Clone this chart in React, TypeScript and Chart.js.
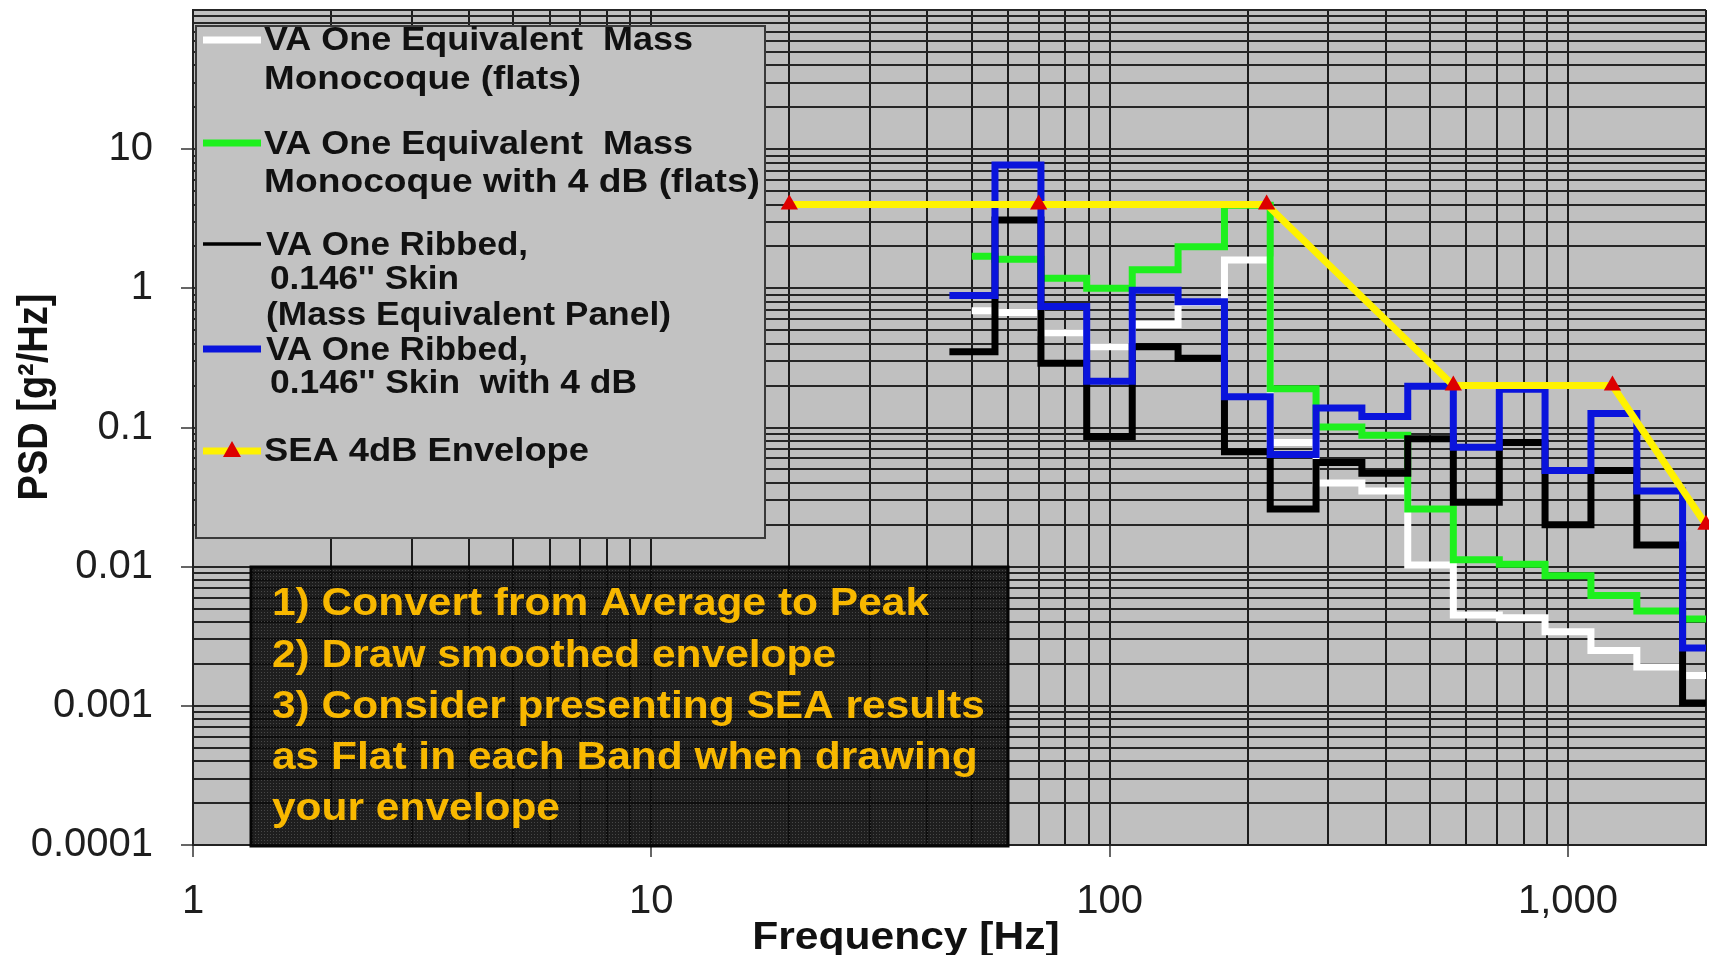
import React, { useEffect, useRef } from "react";
import { Chart, registerables } from "chart.js";

Chart.register(...registerables);

const FONT = "'Liberation Sans', Arial, Helvetica, sans-serif";

// 1/3-octave band edges [Hz]
const bandEdgesHz = [44.7, 56.2, 70.8, 89.1, 112, 141, 178, 224, 282, 355, 447, 562, 708, 891, 1122, 1413, 1778, 2239];
const flatsStartHz = 50;

// PSD per band (bands 50 ... 2000 Hz)
const monoFlatsPsd = [0.69, 0.67, 0.48, 0.38, 0.55, 0.79, 1.6, 0.078, 0.04, 0.035, 0.0103, 0.0045, 0.0043, 0.0034, 0.0025, 0.0019, 0.00165];
const mono4dBFlatsPsd = [1.7, 1.62, 1.18, 1.0, 1.36, 1.99, 3.95, 0.19, 0.101, 0.088, 0.026, 0.0112, 0.0104, 0.0086, 0.0062, 0.0048, 0.0042];
const ribbedPsd = [0.35, 3.1, 0.29, 0.086, 0.38, 0.315, 0.067, 0.026, 0.056, 0.047, 0.083, 0.029, 0.078, 0.02, 0.049, 0.0143, 0.00105];
const ribbed4dBPsd = [0.89, 7.7, 0.74, 0.215, 0.97, 0.8, 0.166, 0.064, 0.138, 0.12, 0.198, 0.072, 0.188, 0.049, 0.126, 0.035, 0.0026];

const envelopeHz = [20, 70, 220, 562, 1250, 2000];
const envelopePsd = [4, 4, 4, 0.2, 0.2, 0.02];

const xRange = [1, 2000];
const yRange = [0.0001, 100];
const xTickValues = [1, 10, 100, 1000];
const xTickLabels = ["1", "10", "100", "1,000"];
const yTickValues = [10, 1, 0.1, 0.01, 0.001, 0.0001];
const yTickLabels = ["10", "1", "0.1", "0.01", "0.001", "0.0001"];

const xTitle = "Frequency [Hz]";
const yTitle = "PSD [g\u00B2/Hz]";

const legendText = [
  ["VA One Equivalent  Mass", "Monocoque (flats)"],
  ["VA One Equivalent  Mass", "Monocoque with 4 dB (flats)"],
  ["VA One Ribbed,", "0.146'' Skin", "(Mass Equivalent Panel)"],
  ["VA One Ribbed,", "0.146'' Skin  with 4 dB"],
  ["SEA 4dB Envelope"],
];

const noteLines = [
  "1) Convert from Average to Peak",
  "2) Draw smoothed envelope",
  "3) Consider presenting SEA results",
  "as Flat in each Band when drawing",
  "your envelope",
];

const COLORS = {
  white: "#ffffff",
  green: "#1ef01e",
  black: "#000000",
  blue: "#0a14dc",
  yellow: "#fff200",
  red: "#dd0000",
  plot: "#c0c0c0",
  grid: "#1c1c1c",
  note: "#f8b800",
};

const stepPoints = (values: number[], startHz: number) => {
  const pts = values.map((v, i) => ({ x: i === 0 ? startHz : bandEdgesHz[i], y: v }));
  pts.push({ x: bandEdgesHz[values.length], y: values[values.length - 1] });
  return pts;
};

const logGrid = (min: number, max: number) => {
  const out: number[] = [];
  for (let e = Math.floor(Math.log10(min)); e <= Math.ceil(Math.log10(max)); e++) {
    for (let m = 1; m <= 9; m++) {
      const v = parseFloat((m * Math.pow(10, e)).toPrecision(8));
      if (v >= min * (1 - 1e-9) && v <= max * (1 + 1e-9)) out.push(v);
    }
  }
  return out;
};

const sameLog = (a: number, b: number) => Math.abs(Math.log10(a) - Math.log10(b)) < 1e-6;
const labelFor = (v: number, vals: number[], labels: string[]) => {
  const i = vals.findIndex((t) => sameLog(t, v));
  return i >= 0 ? labels[i] : "";
};

const drawFitted = (ctx: CanvasRenderingContext2D, text: string, x: number, y: number, width: number) => {
  const sx = width / ctx.measureText(text).width;
  ctx.save();
  ctx.translate(x, y);
  ctx.scale(sx, 1);
  ctx.fillText(text, 0, 0);
  ctx.restore();
};

const drawStretched = (ctx: CanvasRenderingContext2D, text: string, x: number, y: number, sx: number) => {
  ctx.save();
  ctx.translate(x, y);
  ctx.scale(sx, 1);
  ctx.fillText(text, 0, 0);
  ctx.restore();
};

const zeroPadding = (s: any) => {
  s.paddingTop = 0;
  s.paddingBottom = 0;
  s.paddingLeft = 0;
  s.paddingRight = 0;
};

const backgroundPlugin = {
  id: "plotBackground",
  beforeDraw(chart: any) {
    const { ctx, chartArea } = chart;
    ctx.save();
    ctx.fillStyle = "#ffffff";
    ctx.fillRect(0, 0, chart.width, chart.height);
    ctx.fillStyle = COLORS.plot;
    ctx.fillRect(chartArea.left, chartArea.top, chartArea.right - chartArea.left, chartArea.bottom - chartArea.top);
    ctx.restore();
  },
};

const overlayPlugin = {
  id: "overlays",
  afterDraw(chart: any) {
    const ctx: CanvasRenderingContext2D = chart.ctx;
    ctx.save();

    // ---- legend box
    const lb = { x: 196, y: 26, w: 569, h: 512 };
    ctx.fillStyle = "#c2c2c2";
    ctx.fillRect(lb.x, lb.y, lb.w, lb.h);
    ctx.strokeStyle = "#3a3a3a";
    ctx.lineWidth = 2;
    ctx.strokeRect(lb.x, lb.y, lb.w, lb.h);

    ctx.font = `bold 33px ${FONT}`;
    ctx.fillStyle = "#111111";
    ctx.textBaseline = "middle";
    ctx.textAlign = "left";
    const lineY = [[41, 80], [145, 183], [246, 280, 316], [351, 384], [452]];
    const lineX = [[264, 264], [264, 264], [266, 270, 266], [266, 270], [264]];
    const lineW = [[429, 317], [429, 496], [262, 189, 405], [262, 367], [325]];
    legendText.forEach((lines, i) => {
      lines.forEach((t, j) => drawFitted(ctx, t, lineX[i][j], lineY[i][j], lineW[i][j]));
    });

    const samples = [
      { y: 40, color: COLORS.white, w: 7 },
      { y: 143, color: COLORS.green, w: 7 },
      { y: 244, color: COLORS.black, w: 3.5 },
      { y: 349, color: COLORS.blue, w: 7 },
      { y: 451, color: COLORS.yellow, w: 7 },
    ];
    samples.forEach((s) => {
      ctx.strokeStyle = s.color;
      ctx.lineWidth = s.w;
      ctx.beginPath();
      ctx.moveTo(203, s.y);
      ctx.lineTo(261, s.y);
      ctx.stroke();
    });
    ctx.fillStyle = COLORS.red;
    ctx.beginPath();
    ctx.moveTo(232, 441);
    ctx.lineTo(241, 457);
    ctx.lineTo(223, 457);
    ctx.closePath();
    ctx.fill();

    // ---- note box
    const nb = { x: 251, y: 567, w: 757, h: 279 };
    const tile = document.createElement("canvas");
    tile.width = 3;
    tile.height = 3;
    const g = tile.getContext("2d")!;
    g.fillStyle = "rgba(12,12,12,0.9)";
    g.fillRect(0, 0, 3, 3);
    g.fillStyle = "rgba(75,75,75,0.92)";
    g.fillRect(0, 0, 1, 1);
    const pat = ctx.createPattern(tile, "repeat");
    ctx.fillStyle = pat || "rgba(12,12,12,0.9)";
    ctx.fillRect(nb.x, nb.y, nb.w, nb.h);
    ctx.strokeStyle = "#050505";
    ctx.lineWidth = 3;
    ctx.strokeRect(nb.x, nb.y, nb.w, nb.h);

    ctx.font = `bold 38px ${FONT}`;
    ctx.fillStyle = COLORS.note;
    ctx.textBaseline = "middle";
    const nsx = (929 - 272) / ctx.measureText(noteLines[0]).width;
    noteLines.forEach((t, i) => drawStretched(ctx, t, 272, 605 + i * 51.1, nsx));

    // ---- axis titles
    ctx.fillStyle = "#111111";
    ctx.font = `bold 38px ${FONT}`;
    ctx.textAlign = "center";
    ctx.textBaseline = "alphabetic";
    drawStretched(ctx, xTitle, 906, 949, 1.12);

    ctx.save();
    ctx.translate(35, 397);
    ctx.scale(1.12, 1);
    ctx.rotate(-Math.PI / 2);
    ctx.textAlign = "center";
    ctx.textBaseline = "middle";
    ctx.fillText(yTitle, 0, 0);
    ctx.restore();

    ctx.restore();
  },
};

export default function App() {
  const canvasRef = useRef<HTMLCanvasElement | null>(null);

  useEffect(() => {
    document.body.style.margin = "0";
    const canvas = canvasRef.current;
    if (!canvas) return;

    const stepCommon = {
      stepped: "before" as const,
      pointRadius: 0,
      borderJoinStyle: "miter" as const,
      borderCapStyle: "butt" as const,
      fill: false,
    };

    const chart = new Chart(canvas, {
      type: "line",
      data: {
        datasets: [
          {
            label: "SEA 4dB Envelope",
            data: envelopeHz.map((x, i) => ({ x, y: envelopePsd[i] })),
            borderColor: COLORS.yellow,
            borderWidth: 7,
            pointStyle: "triangle",
            pointRadius: 10,
            pointBackgroundColor: COLORS.red,
            pointBorderColor: COLORS.red,
            pointBorderWidth: 0,
            clip: false as any,
            order: 0,
          },
          {
            label: "VA One Ribbed, 0.146'' Skin with 4 dB",
            data: stepPoints(ribbed4dBPsd, bandEdgesHz[0]),
            borderColor: COLORS.blue,
            borderWidth: 7,
            order: 1,
            ...stepCommon,
          },
          {
            label: "VA One Ribbed, 0.146'' Skin (Mass Equivalent Panel)",
            data: stepPoints(ribbedPsd, bandEdgesHz[0]),
            borderColor: COLORS.black,
            borderWidth: 7,
            order: 2,
            ...stepCommon,
          },
          {
            label: "VA One Equivalent Mass Monocoque with 4 dB (flats)",
            data: stepPoints(mono4dBFlatsPsd, flatsStartHz),
            borderColor: COLORS.green,
            borderWidth: 7,
            order: 3,
            ...stepCommon,
          },
          {
            label: "VA One Equivalent Mass Monocoque (flats)",
            data: stepPoints(monoFlatsPsd, flatsStartHz),
            borderColor: COLORS.white,
            borderWidth: 7,
            order: 4,
            ...stepCommon,
          },
        ],
      },
      options: {
        responsive: false,
        animation: false,
        devicePixelRatio: 1,
        events: [],
        layout: { autoPadding: false, padding: { top: 10, right: 3, left: 0, bottom: 0 } },
        plugins: { legend: { display: false }, tooltip: { enabled: false }, title: { display: false } },
        scales: {
          x: {
            type: "logarithmic",
            position: "bottom",
            min: xRange[0],
            max: xRange[1],
            afterBuildTicks: (s: any) => {
              s.ticks = logGrid(xRange[0], xRange[1]).map((value) => ({ value }));
            },
            afterFit: (s: any) => {
              s.height = 110;
              zeroPadding(s);
            },
            grid: {
              color: COLORS.grid,
              lineWidth: 2,
              drawTicks: true,
              tickLength: 12,
              tickWidth: 1.5,
              tickColor: (c: any) => (c.tick && xTickValues.some((t) => sameLog(t, c.tick.value)) ? "#333333" : "rgba(0,0,0,0)"),
            },
            border: { display: true, color: "#222222", width: 2 },
            ticks: {
              autoSkip: false,
              maxRotation: 0,
              minRotation: 0,
              padding: 21,
              color: "#1e1e1e",
              font: { family: FONT, size: 40 },
              callback: (v: any) => labelFor(Number(v), xTickValues, xTickLabels),
            },
          },
          y: {
            type: "logarithmic",
            position: "left",
            min: yRange[0],
            max: yRange[1],
            afterBuildTicks: (s: any) => {
              s.ticks = logGrid(yRange[0], yRange[1]).map((value) => ({ value }));
            },
            afterFit: (s: any) => {
              s.width = 193;
              zeroPadding(s);
            },
            grid: {
              color: "#262626",
              lineWidth: 2,
              drawTicks: true,
              tickLength: 12,
              tickWidth: 1.5,
              tickColor: (c: any) => (c.tick && yTickValues.some((t) => sameLog(t, c.tick.value)) ? "#333333" : "rgba(0,0,0,0)"),
            },
            border: { display: true, color: "#222222", width: 2 },
            ticks: {
              autoSkip: false,
              padding: 28,
              color: "#1e1e1e",
              font: { family: FONT, size: 40 },
              callback: (v: any) => labelFor(Number(v), yTickValues, yTickLabels),
            },
          },
        },
      } as any,
      plugins: [backgroundPlugin, overlayPlugin],
    });

    return () => chart.destroy();
  }, []);

  return (
    <div style={{ width: 1709, height: 955, position: "relative", background: "#fff" }}>
      <canvas ref={canvasRef} width={1709} height={955} style={{ display: "block" }} />
    </div>
  );
}
